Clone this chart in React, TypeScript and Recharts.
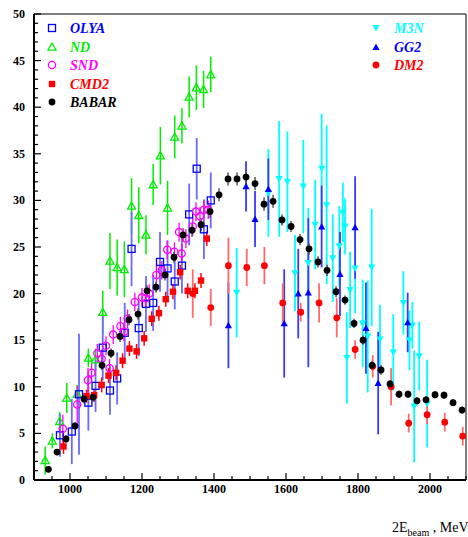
import React from 'react';
import { ScatterChart, Scatter, XAxis, YAxis, ErrorBar, ReferenceLine } from 'recharts';

// ---- axis ticks ----
const xMajor = [1000, 1200, 1400, 1600, 1800, 2000];
const xTicks = [900, 950, 1000, 1050, 1100, 1150, 1200, 1250, 1300, 1350, 1400, 1450, 1500, 1550, 1600, 1650, 1700, 1750, 1800, 1850, 1900, 1950, 2000, 2050, 2100];
const yMajor = [0, 5, 10, 15, 20, 25, 30, 35, 40, 45, 50];
const yTicks = [0, 1, 2, 3, 4, 5, 6, 7, 8, 9, 10, 11, 12, 13, 14, 15, 16, 17, 18, 19, 20, 21, 22, 23, 24, 25, 26, 27, 28, 29, 30, 31, 32, 33, 34, 35, 36, 37, 38, 39, 40, 41, 42, 43, 44, 45, 46, 47, 48, 49, 50];

// ---- OLYA ----
const olyaE = [972, 1005, 1025, 1051, 1071, 1091, 1111, 1131, 1152, 1171, 1191, 1211, 1231, 1250, 1271, 1291, 1311, 1331, 1352, 1372, 1391];
const olyaV = [4.8, 5.2, 9.2, 8.3, 10.1, 14.2, 9.6, 10.9, 15.8, 24.8, 16.3, 18.9, 19.0, 23.4, 22.7, 21.3, 23.0, 28.5, 33.4, 26.9, 30.0];
const olyaErr = [2.3, 3.5, 6.5, 3.0, 2.8, 3.5, 2.6, 2.8, 3.2, 4.0, 3.0, 3.0, 3.0, 3.2, 3.0, 3.0, 3.0, 3.3, 3.3, 3.2, 3.0];

// ---- ND ----
const ndE = [931, 951, 971, 991, 1020, 1051, 1071, 1091, 1111, 1131, 1151, 1171, 1191, 1211, 1231, 1251, 1271, 1291, 1311, 1331, 1351, 1371, 1391];
const ndV = [2.1, 4.2, 6.3, 8.8, 9.2, 13.1, 12.9, 18.0, 23.5, 22.8, 22.6, 29.4, 28.4, 26.3, 31.7, 34.8, 29.2, 36.8, 38.0, 41.1, 42.1, 41.9, 43.5];
const ndErr = [1.5, 0.8, 1.0, 1.6, 1.0, 1.0, 1.2, 2.3, 3.0, 3.0, 3.0, 3.0, 3.0, 2.1, 2.2, 3.1, 2.9, 2.3, 1.9, 2.2, 2.4, 2.0, 1.9];

// ---- SND ----
const sndE = [980, 1020, 1050, 1060, 1076, 1088, 1100, 1110, 1120, 1140, 1150, 1160, 1180, 1200, 1210, 1220, 1240, 1255, 1270, 1290, 1303, 1310, 1322, 1341, 1350, 1361, 1372, 1384];
const sndV = [5.5, 8.1, 10.7, 11.5, 13.6, 13.0, 14.4, 12.0, 15.6, 16.5, 15.9, 17.3, 19.1, 19.6, 19.5, 20.0, 22.0, 22.5, 24.7, 24.5, 26.6, 24.3, 25.9, 27.2, 28.8, 28.3, 29.0, 29.0];
const sndErr = [1.5, 2.0, 1.3, 1.0, 1.0, 1.0, 1.0, 1.0, 1.0, 1.0, 1.0, 1.0, 1.0, 1.0, 1.0, 1.0, 1.0, 1.0, 1.0, 1.0, 1.0, 1.0, 1.0, 1.0, 1.0, 1.0, 1.0, 1.0];

// ---- CMD2 ----
const cmdE = [982, 1046, 1067, 1088, 1107, 1128, 1146, 1165, 1185, 1206, 1227, 1247, 1266, 1286, 1306, 1327, 1347, 1364, 1380];
const cmdV = [3.6, 9.0, 9.1, 10.2, 11.2, 11.5, 12.8, 14.1, 13.8, 15.2, 17.3, 17.9, 19.4, 20.2, 22.3, 20.3, 20.3, 21.4, 25.9];
const cmdErr = [0.8, 0.7, 0.7, 0.8, 0.8, 0.8, 0.8, 0.8, 0.8, 0.8, 0.8, 0.8, 0.8, 0.8, 0.8, 0.8, 0.8, 0.8, 0.8];

// ---- BABAR ----
const babarE = [940, 964, 989, 1014, 1039, 1064, 1089, 1114, 1139, 1164, 1189, 1214, 1239, 1264, 1289, 1314, 1339, 1364, 1389, 1414, 1439, 1464, 1489, 1514, 1539, 1564, 1589, 1614, 1639, 1664, 1689, 1714, 1739, 1764, 1789, 1814, 1839, 1864, 1889, 1914, 1939, 1964, 1989, 2014, 2039, 2064, 2089];
const babarV = [1.15, 3.0, 4.4, 5.8, 8.7, 8.9, 12.3, 13.6, 15.4, 17.2, 17.8, 20.3, 20.7, 22.0, 23.9, 26.3, 26.8, 27.4, 28.8, 30.6, 32.3, 32.3, 32.5, 31.8, 29.6, 29.9, 27.9, 27.2, 25.8, 24.8, 23.4, 22.5, 20.2, 19.3, 16.8, 15.0, 12.3, 11.8, 10.3, 9.2, 9.2, 8.5, 8.6, 9.15, 9.1, 8.3, 7.5];
const babarErr = [0.3, 0.3, 0.4, 0.4, 0.5, 0.5, 0.5, 0.5, 0.6, 0.6, 0.6, 0.6, 0.6, 0.6, 0.6, 0.7, 0.7, 0.7, 0.7, 0.7, 0.7, 0.7, 0.7, 0.7, 0.7, 0.7, 0.6, 0.6, 0.6, 0.6, 0.6, 0.6, 0.6, 0.5, 0.5, 0.5, 0.5, 0.5, 0.4, 0.4, 0.4, 0.4, 0.4, 0.4, 0.4, 0.4, 0.4];

// ---- M3N ----
const m3nE = [1463, 1551, 1581, 1604, 1625, 1648, 1662, 1681, 1699, 1713, 1730, 1748, 1758, 1764, 1769, 1778, 1792, 1813, 1827, 1838, 1861, 1898, 1926, 1943, 1951, 1956, 1970, 1992];
const m3nV = [20.1, 30.8, 32.3, 32.0, 22.2, 31.5, 23.3, 27.4, 33.4, 29.5, 23.8, 25.1, 28.7, 27.2, 13.1, 20.4, 22.7, 16.8, 15.4, 22.8, 15.1, 13.7, 19.0, 15.0, 16.6, 7.9, 13.3, 8.2];
const m3nErr = [4.8, 4.7, 6.2, 5.4, 4.1, 5.0, 5.9, 4.8, 5.9, 8.5, 4.7, 4.3, 3.2, 3.0, 4.9, 4.1, 4.8, 4.7, 6.0, 6.3, 3.7, 4.1, 3.4, 3.2, 2.5, 6.0, 3.7, 4.7];

// ---- GG2 ----
const gg2E = [1440, 1489, 1514, 1551, 1595, 1634, 1662, 1699, 1750, 1792, 1822, 1856, 1938];
const gg2V = [16.6, 31.5, 28.0, 31.2, 16.8, 20.0, 20.1, 27.2, 22.1, 27.1, 16.3, 10.4, 16.9];
const gg2Err = [4.6, 2.7, 3.0, 3.3, 5.8, 4.8, 8.0, 4.4, 4.5, 5.5, 4.9, 5.5, 3.2];

// ---- DM2 ----
const dm2E = [1341, 1391, 1440, 1491, 1540, 1591, 1641, 1692, 1741, 1792, 1841, 1892, 1941, 1992, 2041, 2091];
const dm2V = [20.0, 18.5, 23.0, 22.8, 23.0, 19.0, 18.0, 19.0, 17.4, 14.0, 12.2, 10.0, 6.1, 7.0, 6.2, 4.7];
const dm2Err = [2.6, 2.0, 3.0, 2.0, 2.0, 2.1, 1.0, 2.1, 2.1, 1.0, 1.2, 2.0, 1.0, 1.0, 1.0, 1.0];

const mk = (e: number[], v: number[], s: number[]) => e.map((x, i) => ({ x, y: v[i], err: s[i] }));

const olya = mk(olyaE, olyaV, olyaErr);
const nd = mk(ndE, ndV, ndErr);
const snd = mk(sndE, sndV, sndErr);
const cmd2 = mk(cmdE, cmdV, cmdErr);
const babar = mk(babarE, babarV, babarErr);
const m3n = mk(m3nE, m3nV, m3nErr);
const gg2 = mk(gg2E, gg2V, gg2Err);
const dm2 = mk(dm2E, dm2V, dm2Err);

const C = {
  olya: '#0000ff', olyaBar: '#6a6aff',
  nd: '#00ee00',
  snd: '#ff00ff',
  cmd2: '#ff0000',
  babar: '#000000',
  m3n: '#00ffff',
  gg2: '#0000ff', gg2Bar: '#3a3aff',
  dm2: '#ff0000', dm2Bar: '#ff6a6a',
};

const SERIF = '"Liberation Serif", "Times New Roman", serif';

type M = (cx: number, cy: number) => React.ReactElement;
const openSquare = (c: string, s = 3.5): M => (cx, cy) => <rect x={cx - s} y={cy - s} width={2 * s} height={2 * s} fill="none" stroke={c} strokeWidth={1.3} />;
const fillSquare = (c: string, s = 3.2): M => (cx, cy) => <rect x={cx - s} y={cy - s} width={2 * s} height={2 * s} fill={c} stroke="none" />;
const openTri = (c: string, s = 4): M => (cx, cy) => <path d={`M${cx},${cy - s} L${cx + s},${cy + s * 0.8} L${cx - s},${cy + s * 0.8} Z`} fill="none" stroke={c} strokeWidth={1.3} />;
const fillTriUp = (c: string, s = 3.6): M => (cx, cy) => <path d={`M${cx},${cy - s} L${cx + s},${cy + s * 0.8} L${cx - s},${cy + s * 0.8} Z`} fill={c} />;
const fillTriDown = (c: string, s = 3.6): M => (cx, cy) => <path d={`M${cx},${cy + s} L${cx + s},${cy - s * 0.8} L${cx - s},${cy - s * 0.8} Z`} fill={c} />;
const openCircle = (c: string, r = 3.6): M => (cx, cy) => <circle cx={cx} cy={cy} r={r} fill="none" stroke={c} strokeWidth={1.3} />;
const fillCircle = (c: string, r = 3.4): M => (cx, cy) => <circle cx={cx} cy={cy} r={r} fill={c} />;

const shapeOf = (m: M) => (p: any) => m(p.cx, p.cy);

const YTick = (p: any) => {
  const v = p.payload.value;
  const major = yMajor.includes(v);
  return (
    <g>
      <line x1={p.x} y1={p.y} x2={p.x + (major ? 7 : 4)} y2={p.y} stroke="#000" strokeWidth={1.2} />
      {major && (
        <text x={p.x - 9} y={p.y + 4} textAnchor="end" fontFamily={SERIF} fontWeight="bold" fontSize={12} fill="#000">{v}</text>
      )}
    </g>
  );
};

const XTick = (p: any) => {
  const v = p.payload.value;
  const major = xMajor.includes(v);
  return (
    <g>
      <line x1={p.x} y1={p.y} x2={p.x} y2={p.y - (major ? 7 : 4)} stroke="#000" strokeWidth={1.2} />
      {major && (
        <text x={p.x} y={p.y + 13} textAnchor="middle" fontFamily={SERIF} fontWeight="bold" fontSize={12} fill="#000">{v}</text>
      )}
    </g>
  );
};

const leftLegend = [
  { name: 'OLYA', color: C.olya, m: openSquare(C.olya) },
  { name: 'ND', color: C.nd, m: openTri(C.nd) },
  { name: 'SND', color: C.snd, m: openCircle(C.snd) },
  { name: 'CMD2', color: C.cmd2, m: fillSquare(C.cmd2) },
  { name: 'BABAR', color: C.babar, m: fillCircle(C.babar) },
];
const rightLegend = [
  { name: 'M3N', color: C.m3n, m: fillTriDown(C.m3n) },
  { name: 'GG2', color: C.gg2, m: fillTriUp(C.gg2) },
  { name: 'DM2', color: C.dm2, m: fillCircle(C.dm2) },
];
const legendRows = [28, 47, 65, 84, 102];

export default function App() {
  return (
    <div style={{ position: 'absolute', left: 0, top: 0, width: 468, height: 537, background: '#fff' }}>
      <ScatterChart width={468} height={537} margin={{ top: 14, right: 2, bottom: 27, left: 0 }}>
        <XAxis
          type="number"
          dataKey="x"
          domain={[900, 2100]}
          ticks={xTicks}
          interval={0}
          allowDataOverflow
          height={30}
          tickSize={0}
          tickMargin={0}
          tickLine={false}
          axisLine={{ stroke: '#000', strokeWidth: 2 }}
          tick={<XTick />}
        />
        <YAxis
          type="number"
          dataKey="y"
          domain={[0, 50]}
          ticks={yTicks}
          interval={0}
          allowDataOverflow
          width={34}
          tickSize={0}
          tickMargin={0}
          tickLine={false}
          axisLine={{ stroke: '#000', strokeWidth: 2 }}
          tick={<YTick />}
        />
        <ReferenceLine y={50} stroke="#555" strokeWidth={1.5} />
        <ReferenceLine x={2100} stroke="#555" strokeWidth={1.5} />

        <Scatter data={m3n} isAnimationActive={false} shape={shapeOf(fillTriDown(C.m3n))}>
          <ErrorBar dataKey="err" direction="y" width={0} stroke={C.m3n} strokeWidth={1.8} />
        </Scatter>
        <Scatter data={gg2} isAnimationActive={false} shape={shapeOf(fillTriUp(C.gg2))}>
          <ErrorBar dataKey="err" direction="y" width={0} stroke={C.gg2Bar} strokeWidth={1.8} />
        </Scatter>
        <Scatter data={dm2} isAnimationActive={false} shape={shapeOf(fillCircle(C.dm2))}>
          <ErrorBar dataKey="err" direction="y" width={0} stroke={C.dm2Bar} strokeWidth={1.8} />
        </Scatter>
        <Scatter data={nd} isAnimationActive={false} shape={shapeOf(openTri(C.nd))}>
          <ErrorBar dataKey="err" direction="y" width={0} stroke={C.nd} strokeWidth={1.5} />
        </Scatter>
        <Scatter data={olya} isAnimationActive={false} shape={shapeOf(openSquare(C.olya))}>
          <ErrorBar dataKey="err" direction="y" width={0} stroke={C.olyaBar} strokeWidth={1.8} />
        </Scatter>
        <Scatter data={snd} isAnimationActive={false} shape={shapeOf(openCircle(C.snd))}>
          <ErrorBar dataKey="err" direction="y" width={0} stroke={C.snd} strokeWidth={1.3} />
        </Scatter>
        <Scatter data={cmd2} isAnimationActive={false} shape={shapeOf(fillSquare(C.cmd2))}>
          <ErrorBar dataKey="err" direction="y" width={0} stroke={C.cmd2} strokeWidth={1.5} />
        </Scatter>
        <Scatter data={babar} isAnimationActive={false} shape={shapeOf(fillCircle(C.babar))}>
          <ErrorBar dataKey="err" direction="y" width={0} stroke="#555" strokeWidth={1.5} />
        </Scatter>
      </ScatterChart>

      <svg width={468} height={537} style={{ position: 'absolute', left: 0, top: 0, pointerEvents: 'none' }}>
        {leftLegend.map((l, i) => (
          <g key={l.name}>
            {l.m(52, legendRows[i])}
            <text x={70} y={legendRows[i] + 5} fontFamily={SERIF} fontStyle="italic" fontWeight="bold" fontSize={14} fill={l.color}>{l.name}</text>
          </g>
        ))}
        {rightLegend.map((l, i) => (
          <g key={l.name}>
            {l.m(376, legendRows[i])}
            <text x={394} y={legendRows[i] + 5} fontFamily={SERIF} fontStyle="italic" fontWeight="bold" fontSize={14} fill={l.color}>{l.name}</text>
          </g>
        ))}
        <text x={392} y={532} fontFamily={SERIF} fontSize={14} fill="#000">
          2E<tspan fontSize={10} dy={4}>beam</tspan><tspan dy={-4}> , MeV</tspan>
        </text>
      </svg>
    </div>
  );
}
